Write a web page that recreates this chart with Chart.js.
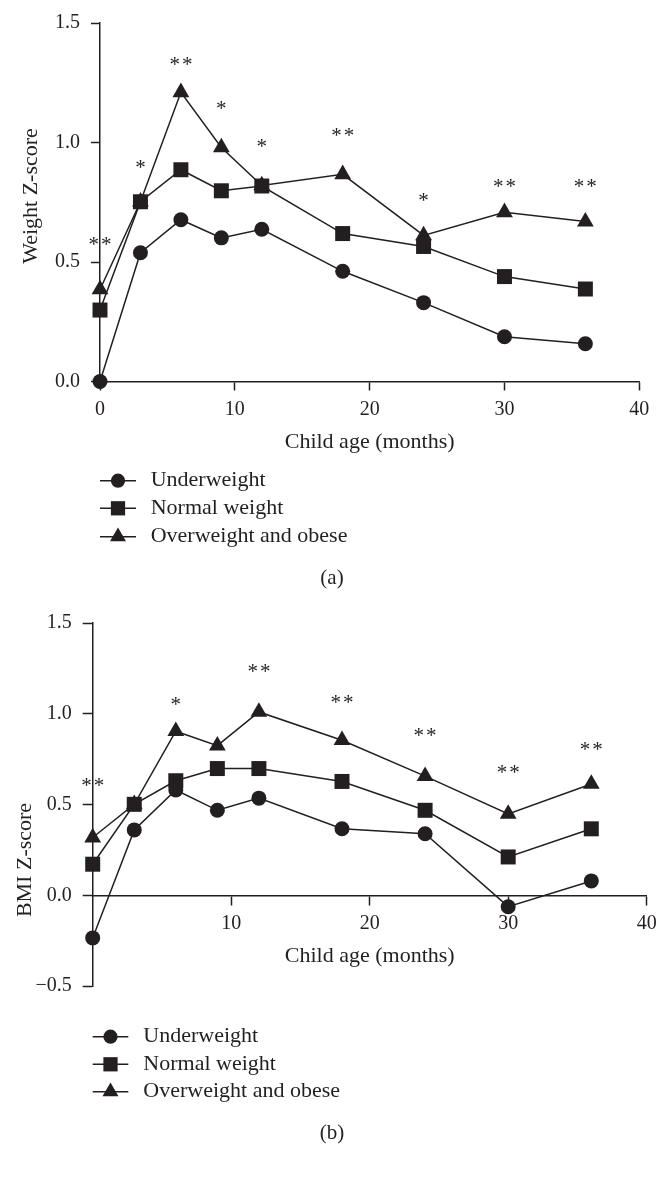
<!DOCTYPE html>
<html><head><meta charset="utf-8">
<script src="https://cdn.jsdelivr.net/npm/chart.js@4/dist/chart.umd.min.js"></script>
<style>
html,body{margin:0;padding:0;background:#fff;}
body{width:670px;height:1177px;position:relative;overflow:hidden;}
canvas{position:absolute;left:0;}
#ca{top:0}
#cb{top:600px}
</style></head><body>
<canvas id="ca" width="670" height="600"></canvas>
<canvas id="cb" width="670" height="577"></canvas>
<script>
// ---------- data ----------
const ages = [0, 3, 6, 9, 12, 18, 24, 30, 36];
const seriesNames = ['Underweight', 'Normal weight', 'Overweight and obese'];

const weightUnder  = [0.00, 0.539, 0.677, 0.601, 0.637, 0.461, 0.330, 0.187, 0.158];
const weightNormal = [0.299, 0.752, 0.886, 0.798, 0.818, 0.619, 0.565, 0.439, 0.387];
const weightOver   = [0.385, 0.752, 1.210, 0.979, 0.820, 0.867, 0.611, 0.708, 0.669];

const bmiUnder  = [-0.235, 0.360, 0.580, 0.468, 0.535, 0.366, 0.339, -0.063, 0.079];
const bmiNormal = [0.171, 0.501, 0.631, 0.698, 0.698, 0.627, 0.468, 0.211, 0.366];
const bmiOver   = [0.318, 0.501, 0.904, 0.824, 1.010, 0.854, 0.656, 0.448, 0.613];

const weightXTicks = [0, 10, 20, 30, 40];
const bmiXTicks = [10, 20, 30, 40];
const weightYTicks = [0, 0.5, 1.0, 1.5];
const bmiYTicks = [-0.5, 0, 0.5, 1.0, 1.5];

const weightStarAges = [0, 3, 6, 9, 12, 18, 24, 30, 36];
const weightStarText = ['**', '*', '**', '*', '*', '**', '*', '**', '**'];
const weightStarY    = [0.587, 0.910, 1.343, 1.157, 0.997, 1.044, 0.770, 0.832, 0.829];

const bmiStarAges = [0, 6, 12, 18, 24, 30, 36];
const bmiStarText = ['**', '*', '**', '**', '**', '**', '**'];
const bmiStarY    = [0.622, 1.073, 1.253, 1.082, 0.901, 0.698, 0.820];

const xTitle = 'Child age (months)';
const weightYTitle = 'Weight Z-score';
const bmiYTitle = 'BMI Z-score';

// ---------- styles ----------
const ink = '#231f20';
const family = '"Liberation Serif", "Times New Roman", serif';
const styles = [
  {pointStyle: 'circle', radius: 7.5},
  {pointStyle: 'rect', radius: 10.6},
  {pointStyle: 'triangle', radius: 9.7}
];

function drawMarker(ctx, style, r, x, y) {
  ctx.beginPath();
  if (style === 'circle') {
    ctx.arc(x, y, r, 0, Math.PI * 2);
  } else if (style === 'rect') {
    const s = Math.SQRT1_2 * r;
    ctx.rect(x - s, y - s, 2 * s, 2 * s);
  } else {
    let rad = 0;
    ctx.moveTo(x + Math.sin(rad) * r, y - Math.cos(rad) * r);
    rad += 2 * Math.PI / 3;
    ctx.lineTo(x + Math.sin(rad) * r, y - Math.cos(rad) * r);
    rad += 2 * Math.PI / 3;
    ctx.lineTo(x + Math.sin(rad) * r, y - Math.cos(rad) * r);
    ctx.closePath();
  }
  ctx.fill();
}

const decor = {
  id: 'decor',
  afterDatasetsDraw(chart, args, o) {
    const ctx = chart.ctx, xs = chart.scales.x, ys = chart.scales.y;
    ctx.save();
    ctx.fillStyle = ink;
    ctx.strokeStyle = ink;
    // significance stars
    ctx.font = o.starSize + 'px ' + family;
    ctx.textAlign = 'center';
    ctx.textBaseline = 'alphabetic';
    ctx.letterSpacing = '2px';
    o.starAges.forEach((a, i) => {
      const t = o.starText[i];
      const m = ctx.measureText(t);
      const cy = ys.getPixelForValue(o.starY[i]);
      ctx.fillText(t, xs.getPixelForValue(a) + 1, cy + (m.actualBoundingBoxAscent - m.actualBoundingBoxDescent) / 2);
    });
    ctx.letterSpacing = '0px';
    // y title
    ctx.save();
    ctx.font = '22px ' + family;
    ctx.translate(o.yTitleX, o.yTitleY);
    ctx.rotate(-Math.PI / 2);
    ctx.textAlign = 'center';
    ctx.textBaseline = 'middle';
    ctx.fillText(o.yTitle, 0, 0);
    ctx.restore();
    // legend
    ctx.font = '22px ' + family;
    ctx.textAlign = 'left';
    ctx.textBaseline = 'middle';
    chart.data.datasets.forEach((ds, i) => {
      const y = o.legendRows[i];
      ctx.lineWidth = 1.5;
      ctx.beginPath();
      ctx.moveTo(o.legendLine[0], y);
      ctx.lineTo(o.legendLine[1], y);
      ctx.stroke();
      drawMarker(ctx, ds.pointStyle, ds.pointRadius * 0.95, o.legendMarkerX, y);
      ctx.fillText(ds.label, o.legendTextX, y);
    });
    // caption
    ctx.textAlign = 'center';
    ctx.font = '21px ' + family;
    ctx.fillText(o.caption, o.captionX, o.captionY);
    ctx.restore();
  }
};

function fmtY(v) {
  const s = Math.abs(v).toFixed(1);
  return v < 0 ? '\u2212' + s : s;
}

function makeChart(id, cfg) {
  const datasets = cfg.series.map((vals, i) => ({
    label: seriesNames[i],
    data: ages.map((a, j) => ({x: a, y: vals[j]})),
    borderColor: ink,
    backgroundColor: ink,
    borderWidth: 1.5,
    pointStyle: styles[i].pointStyle,
    pointRadius: styles[i].radius,
    pointBackgroundColor: ink,
    pointBorderColor: ink,
    pointBorderWidth: 0,
    tension: 0,
    clip: false
  }));
  return new Chart(document.getElementById(id), {
    type: 'line',
    data: {datasets},
    plugins: [decor],
    options: {
      responsive: false,
      animation: false,
      devicePixelRatio: 1,
      layout: {padding: cfg.padding},
      plugins: {
        legend: {display: false},
        tooltip: {enabled: false},
        decor: cfg.decor
      },
      scales: {
        x: {
          type: 'linear', min: 0, max: 40,
          position: cfg.xPos,
          afterBuildTicks: s => { s.ticks = cfg.xTicks.map(v => ({value: v})); },
          afterFit: s => { s.height = cfg.xHeight; },
          grid: {drawOnChartArea: false, drawTicks: true, tickLength: 9, tickWidth: 1.5, tickColor: ink},
          border: {display: true, color: ink, width: 1.5},
          ticks: {padding: 7, color: ink, font: {family, size: 20}, maxRotation: 0, autoSkip: false},
          title: {display: true, text: xTitle, color: ink, font: {family, size: 22}, padding: 0}
        },
        y: {
          type: 'linear', min: cfg.yMin, max: cfg.yMax,
          position: 'left',
          afterBuildTicks: s => { s.ticks = cfg.yTicks.map(v => ({value: v})); },
          afterFit: s => { s.width = cfg.yWidth; },
          grid: {drawOnChartArea: false, drawTicks: true, tickLength: cfg.yTick, tickWidth: 1.5, tickColor: ink},
          border: {display: true, color: ink, width: 1.5},
          ticks: {padding: 11, color: ink, font: {family, size: 20}, callback: v => fmtY(v)},
          title: {display: false}
        }
      }
    }
  });
}

makeChart('ca', {
  series: [weightUnder, weightNormal, weightOver],
  yMin: 0, yMax: 1.5, yTicks: weightYTicks, xTicks: weightXTicks,
  xPos: 'bottom', xHeight: 74.3, yWidth: 100, yTick: 9,
  padding: {top: 21.7, right: 30.7, bottom: 144.2, left: 0},
  decor: {
    starAges: weightStarAges, starText: weightStarText, starY: weightStarY, starSize: 21,
    yTitle: weightYTitle, yTitleX: 30.9, yTitleY: 196,
    legendRows: [480.7, 508.3, 536.7], legendLine: [100, 136], legendMarkerX: 118, legendTextX: 150.7,
    caption: '(a)', captionX: 332, captionY: 578
  }
});

makeChart('cb', {
  series: [bmiUnder, bmiNormal, bmiOver],
  yMin: -0.5, yMax: 1.5, yTicks: bmiYTicks, xTicks: bmiXTicks,
  xPos: {y: 0}, xHeight: 74.5, yWidth: 92.7, yTick: 10,
  padding: {top: 16, right: 23.3, bottom: 191, left: 0},
  decor: {
    starAges: bmiStarAges, starText: bmiStarText, starY: bmiStarY, starSize: 21,
    yTitle: bmiYTitle, yTitleX: 24.9, yTitleY: 260,
    legendRows: [436.7, 464.3, 491.7], legendLine: [92.7, 128.3], legendMarkerX: 110.5, legendTextX: 143.3,
    caption: '(b)', captionX: 332, captionY: 533
  }
});
</script>
</body></html>
